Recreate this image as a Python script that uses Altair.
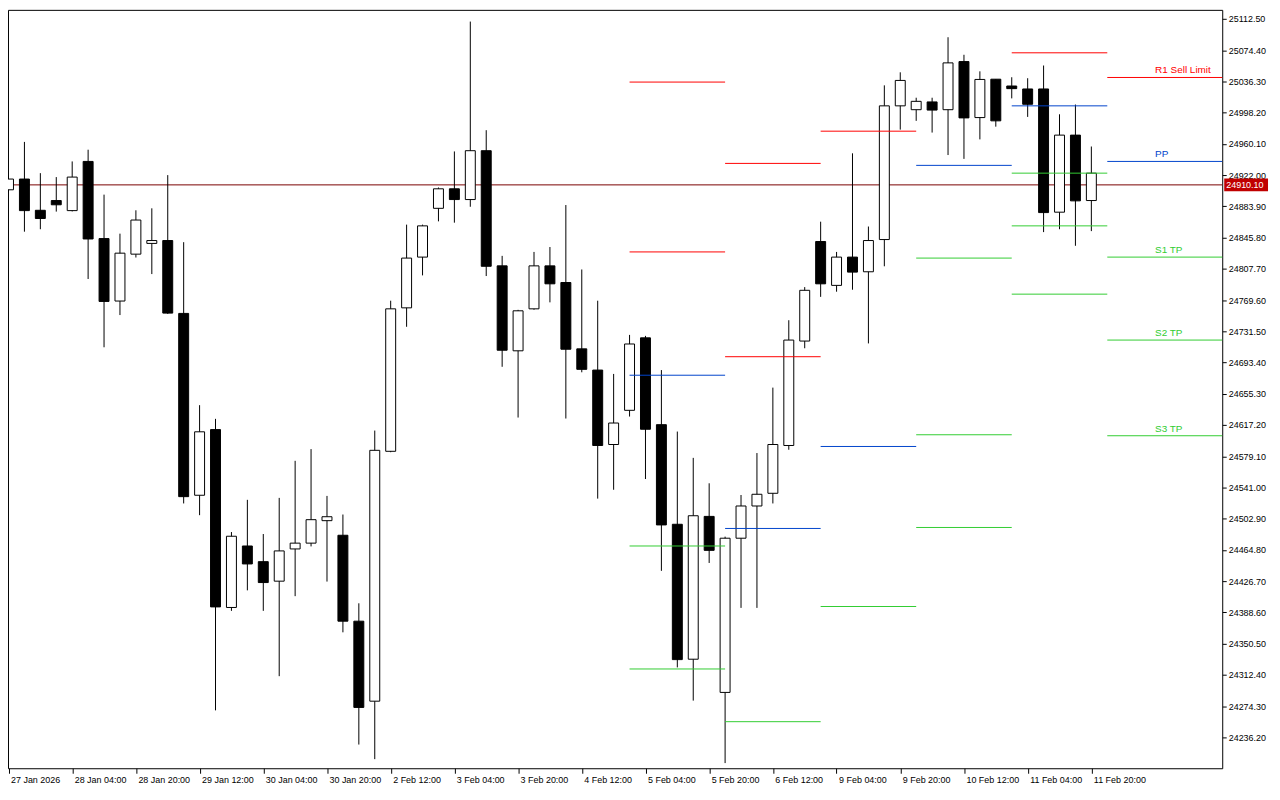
import json
import altair as alt
import pandas as pd

# ---------------- data ----------------
x_labels = ["27 Jan 2026", "28 Jan 04:00", "28 Jan 20:00", "29 Jan 12:00", "30 Jan 04:00",
            "30 Jan 20:00", "2 Feb 12:00", "3 Feb 04:00", "3 Feb 20:00", "4 Feb 12:00",
            "5 Feb 04:00", "5 Feb 20:00", "6 Feb 12:00", "9 Feb 04:00", "9 Feb 20:00",
            "10 Feb 12:00", "11 Feb 04:00", "11 Feb 20:00"]

y_ticks = [25112.50, 25074.40, 25036.30, 24998.20, 24960.10, 24922.00, 24883.90, 24845.80,
           24807.70, 24769.60, 24731.50, 24693.40, 24655.30, 24617.20, 24579.10, 24541.00,
           24502.90, 24464.80, 24426.70, 24388.60, 24350.50, 24312.40, 24274.30, 24236.20]

opens = [24904.1, 24917.2, 24879.1, 24891.0, 24878.7, 24938.7, 24844.6, 24768.4, 24825.6, 24838.7,
         24842.2, 24753.3, 24531.5, 24611.6, 24394.6, 24469.6, 24450.5, 24426.7, 24466.0, 24473.1,
         24500.5, 24482.7, 24377.9, 24280.3, 24585.1, 24760.1, 24822.0, 24881.5, 24905.3, 24892.2,
         24951.8, 24811.3, 24707.7, 24758.9, 24811.3, 24791.0, 24710.1, 24684.2, 24593.4, 24635.1,
         24723.5, 24617.6, 24496.1, 24331.5, 24505.7, 24291.0, 24479.1, 24518.4, 24533.9, 24592.2,
         24719.6, 24841.0, 24787.5, 24822.0, 24804.1, 24843.4, 25006.5, 25001.8, 25011.3, 25001.8,
         25060.5, 24992.2, 25039.0, 25030.7, 25027.1, 25027.1, 24876.8, 24970.8, 24891.0]

highs = [24921.2, 24962.5, 24924.4, 24919.6, 24938.7, 24953.0, 24898.2, 24850.6, 24879.1, 24881.5,
         24922.0, 24840.2, 24641.4, 24624.7, 24486.6, 24525.9, 24484.2, 24528.3, 24573.5, 24587.8,
         24530.7, 24508.0, 24399.7, 24610.4, 24768.8, 24861.6, 24861.6, 24906.9, 24950.9, 25109.3,
         24976.8, 24823.5, 24757.7, 24828.3, 24834.3, 24885.5, 24806.9, 24768.8, 24679.5, 24727.1,
         24725.9, 24684.2, 24609.2, 24577.1, 24546.1, 24481.0, 24531.8, 24583.0, 24662.8, 24745.0,
         24785.4, 24865.2, 24828.3, 24948.6, 24859.3, 25031.5, 25047.4, 25016.4, 25016.4, 25090.2,
         25068.8, 25048.6, 25039.0, 25041.4, 25040.2, 25055.7, 24996.2, 25008.1, 24956.9]

lows = [24900.9, 24853.0, 24856.0, 24877.5, 24877.7, 24795.3, 24712.0, 24751.3, 24821.5, 24801.3,
        24752.7, 24521.5, 24507.2, 24269.1, 24390.5, 24415.5, 24390.5, 24310.8, 24408.4, 24469.1,
        24426.2, 24364.3, 24227.4, 24209.6, 24584.0, 24737.0, 24799.7, 24865.6, 24864.0, 24883.4,
        24798.9, 24688.2, 24626.3, 24757.8, 24766.8, 24625.1, 24681.5, 24527.4, 24538.2, 24627.5,
        24551.3, 24439.3, 24321.5, 24281.0, 24448.9, 24204.8, 24394.1, 24394.1, 24521.5, 24587.0,
        24710.8, 24773.5, 24779.8, 24782.2, 24716.7, 24810.8, 24977.5, 24988.2, 24973.9, 24946.5,
        24941.8, 24965.6, 24981.1, 25015.6, 24993.0, 24852.5, 24856.0, 24835.8, 24853.7]

closes = [24917.2, 24878.7, 24869.1, 24885.8, 24919.6, 24844.1, 24767.9, 24826.8, 24867.2, 24842.2,
          24753.7, 24529.8, 24608.9, 24395.3, 24481.5, 24447.7, 24425.0, 24463.6, 24473.1, 24501.7,
          24505.3, 24377.9, 24272.7, 24586.3, 24758.9, 24820.8, 24860.1, 24905.3, 24892.2, 24951.8,
          24810.8, 24708.4, 24756.5, 24811.3, 24789.4, 24709.6, 24685.1, 24592.2, 24619.6, 24716.0,
          24612.0, 24495.3, 24331.0, 24506.5, 24464.3, 24479.1, 24518.4, 24532.7, 24593.4, 24720.8,
          24781.5, 24789.4, 24822.0, 24803.7, 24842.2, 25006.5, 25037.5, 25012.0, 25001.3, 25058.9,
          24991.8, 25038.7, 24988.2, 25027.5, 25008.4, 24876.3, 24970.8, 24890.6, 24924.4]

bid_price = 24910.10

# daily pivot segments (start bar, end bar, kind, price)
seg_start = [39, 39, 39, 39, 39, 45, 45, 45, 45, 51, 51, 51, 57, 57, 57, 57,
             63, 63, 63, 63, 63, 69, 69, 69, 69, 69]
seg_end = [45, 45, 45, 45, 45, 51, 51, 51, 51, 57, 57, 57, 63, 63, 63, 63,
           69, 69, 69, 69, 69, 77, 77, 77, 77, 77]
seg_kind = ["R", "R", "P", "S", "S", "R", "R", "P", "S", "R", "P", "S", "P", "S", "S", "S",
            "R", "P", "S", "S", "S", "R", "P", "S", "S", "S"]
seg_price = [25035.5, 24828.3, 24677.9, 24469.6, 24319.6,
             24936.3, 24700.5, 24491.0, 24255.3,
             24975.6, 24591.0, 24395.8,
             24933.9, 24820.8, 24605.3, 24492.2,
             25071.2, 25006.5, 24924.4, 24860.1, 24776.8,
             25041.1, 24938.7, 24822.0, 24720.8, 24604.1]

lab_text = ["R1 Sell Limit", "PP", "S1 TP", "S2 TP", "S3 TP"]
lab_kind = ["R", "P", "S", "S", "S"]
lab_price = [25041.1, 24938.7, 24822.0, 24720.8, 24604.1]
lab_x = [72, 72, 72, 72, 72]

# ---------------- frames ----------------
candles = pd.DataFrame({"i": list(range(len(opens))), "open": opens, "high": highs,
                        "low": lows, "close": closes})
candles["dir"] = ["up" if c >= o else "down" for o, c in zip(opens, closes)]
segs = pd.DataFrame({"s": seg_start, "e": seg_end, "k": seg_kind, "p": seg_price})
labs = pd.DataFrame({"x": lab_x, "t": lab_text, "k": lab_kind, "p": lab_price})
bid = pd.DataFrame({"p": [bid_price]})

FONT = "Liberation Sans"
RED, BLUE, GREEN = "#ff0000", "#0044cc", "#32cd32"

xscale = alt.Scale(domain=[-0.03125, 76.21875], nice=False, zero=False, padding=0)
yscale = alt.Scale(domain=[24198.5, 25123.6], nice=False, zero=False, padding=0)
kind_scale = alt.Scale(domain=["R", "P", "S"], range=[RED, BLUE, GREEN])

label_expr = json.dumps(x_labels) + "[round(datum.value / 4)]"

xaxis = alt.Axis(values=list(range(0, 69, 4)), tickCount=100, labelExpr=label_expr, title=None,
                 tickSize=5, labelAlign="left", labelOffset=2, labelPadding=2,
                 grid=False, domain=False, labelFont=FONT, labelFontSize=9,
                 labelColor="black", tickColor="black", labelOverlap=False,
                 labelFlush=False, labelBound=False)
yaxis = alt.Axis(orient="right", values=y_ticks, tickCount=100, format=".2f", title=None,
                 tickSize=4, labelPadding=2, grid=False, domain=False, labelFont=FONT,
                 labelFontSize=9, labelColor="black", tickColor="black",
                 labelOverlap=False, labelBaseline="middle", labelFlush=False)

bid_line = alt.Chart(bid).mark_rule(color="#7a0000", strokeWidth=1).encode(
    y=alt.Y("p:Q", scale=yscale, axis=yaxis))

wicks = alt.Chart(candles).mark_rule(color="black", strokeWidth=1, clip=True).encode(
    x=alt.X("i:Q", scale=xscale, axis=xaxis),
    y=alt.Y("low:Q", scale=yscale, axis=yaxis),
    y2="high:Q")

bodies = alt.Chart(candles).mark_bar(size=10, stroke="black", strokeWidth=1, clip=True).encode(
    x=alt.X("i:Q", scale=xscale, axis=xaxis),
    y=alt.Y("open:Q", scale=yscale, axis=yaxis),
    y2="close:Q",
    fill=alt.Fill("dir:N", scale=alt.Scale(domain=["up", "down"], range=["white", "black"]),
                  legend=None))

levels = alt.Chart(segs).mark_rule(strokeWidth=1, clip=True).encode(
    x=alt.X("s:Q", scale=xscale, axis=xaxis), x2="e:Q",
    y=alt.Y("p:Q", scale=yscale, axis=yaxis),
    color=alt.Color("k:N", scale=kind_scale, legend=None))

level_text = alt.Chart(labs).mark_text(align="left", baseline="alphabetic", dy=-4,
                                       font=FONT, fontSize=10).encode(
    x=alt.X("x:Q", scale=xscale, axis=xaxis),
    y=alt.Y("p:Q", scale=yscale, axis=yaxis),
    text="t:N",
    color=alt.Color("k:N", scale=kind_scale, legend=None))

bid_box = alt.Chart(bid).mark_rule(color="#c00000", strokeWidth=13, strokeCap="butt").encode(
    x=alt.value(1222), x2=alt.value(1266),
    y=alt.Y("p:Q", scale=yscale, axis=yaxis))

bid_text = alt.Chart(bid).mark_text(align="left", baseline="middle", color="white",
                                    font=FONT, fontSize=9).encode(
    x=alt.value(1224),
    y=alt.Y("p:Q", scale=yscale, axis=yaxis),
    text=alt.Text("p:Q", format=".2f"))

chart = alt.layer(bid_line, wicks, bodies, levels, level_text, bid_box, bid_text).properties(
    width=1220, height=762, background="white",
    padding={"left": 0, "top": 0, "right": 50, "bottom": 20},
    autosize=alt.AutoSizeParams(type="none"),
).configure_view(stroke="black", strokeWidth=1).configure_axis(labelOverlap=False)

chart.save("out.html", embed_options={"renderer": "svg", "actions": False})
